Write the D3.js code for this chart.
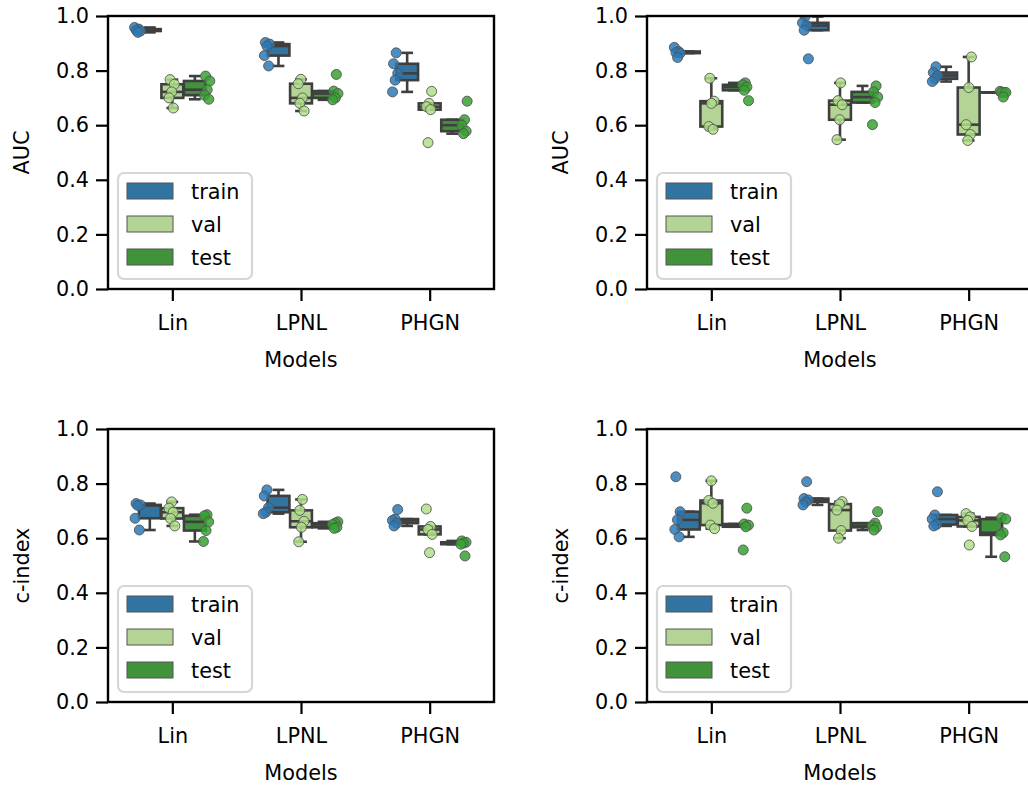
<!DOCTYPE html>
<html>
<head>
<meta charset="utf-8">
<script src="https://cdn.jsdelivr.net/npm/d3@7"></script>
<style>
  body { margin: 0; background: #fff; }
  svg { display: block; font-family: "DejaVu Sans", sans-serif; }
</style>
</head>
<body>
<svg width="1028" height="786"></svg>
<script>
const models = ["Lin", "LPNL", "PHGN"];
const splits = ["train", "val", "test"];
const yTicks = [0, 0.2, 0.4, 0.6, 0.8, 1.0];

// one list per model (Lin, LPNL, PHGN), 5 folds each
// AUC, left
const aucLTrain = [[0.958, 0.952, 0.948, 0.945, 0.94], [0.903, 0.897, 0.89, 0.855, 0.817], [0.865, 0.825, 0.79, 0.765, 0.722]];
const aucLVal   = [[0.767, 0.75, 0.722, 0.70, 0.663], [0.768, 0.752, 0.70, 0.68, 0.652], [0.724, 0.68, 0.668, 0.657, 0.536]];
const aucLTest  = [[0.78, 0.762, 0.73, 0.71, 0.695], [0.786, 0.725, 0.716, 0.70, 0.693], [0.688, 0.62, 0.60, 0.578, 0.569]];
// AUC, right
const aucRTrain = [[0.885, 0.87, 0.866, 0.864, 0.848], [0.998, 0.975, 0.965, 0.948, 0.843], [0.814, 0.793, 0.782, 0.77, 0.76]];
const aucRVal   = [[0.772, 0.688, 0.68, 0.595, 0.585], [0.755, 0.69, 0.675, 0.62, 0.547], [0.85, 0.738, 0.602, 0.566, 0.544]];
const aucRTest  = [[0.755, 0.748, 0.74, 0.728, 0.69], [0.744, 0.722, 0.703, 0.683, 0.602], [0.724, 0.72, 0.72, 0.72, 0.703]];
// c-index, left
const ciLTrain = [[0.727, 0.722, 0.72, 0.673, 0.63], [0.777, 0.755, 0.712, 0.695, 0.69], [0.705, 0.67, 0.665, 0.655, 0.645]];
const ciLVal   = [[0.733, 0.71, 0.695, 0.672, 0.645], [0.742, 0.702, 0.662, 0.64, 0.587], [0.707, 0.643, 0.632, 0.614, 0.547]];
const ciLTest  = [[0.686, 0.682, 0.66, 0.628, 0.588], [0.66, 0.655, 0.65, 0.64, 0.636], [0.59, 0.585, 0.582, 0.578, 0.535]];
// c-index, right
const ciRTrain = [[0.825, 0.697, 0.667, 0.632, 0.605], [0.807, 0.745, 0.74, 0.733, 0.722], [0.77, 0.685, 0.67, 0.65, 0.645]];
const ciRVal   = [[0.81, 0.738, 0.728, 0.648, 0.635], [0.734, 0.725, 0.703, 0.628, 0.60], [0.69, 0.678, 0.665, 0.643, 0.575]];
const ciRTest  = [[0.71, 0.652, 0.648, 0.642, 0.557], [0.697, 0.655, 0.645, 0.64, 0.63], [0.675, 0.67, 0.62, 0.612, 0.532]];

const boxColor = { train: "#3274a1", val: "#b3d495", test: "#40923b" };
const dotColor = { train: "#2a7ab8", val: "#b2df8a", test: "#38a232" };
const lineColor = "#3f3f3f";

const panels = [
  { left: 108, top: 16, label: "AUC", data: { train: aucLTrain, val: aucLVal, test: aucLTest } },
  { left: 647, top: 16, label: "AUC", data: { train: aucRTrain, val: aucRVal, test: aucRTest } },
  { left: 108, top: 429, label: "c-index", data: { train: ciLTrain, val: ciLVal, test: ciLTest } },
  { left: 647, top: 429, label: "c-index", data: { train: ciRTrain, val: ciRVal, test: ciRTest } }
];

const width = 386, height = 273;
const svg = d3.select("svg");

function boxStats(vals) {
  const s = vals.slice().sort(d3.ascending);
  const q1 = d3.quantileSorted(s, 0.25), med = d3.quantileSorted(s, 0.5), q3 = d3.quantileSorted(s, 0.75);
  const iqr = q3 - q1;
  const lo = d3.min(s.filter(v => v >= q1 - 1.5 * iqr));
  const hi = d3.max(s.filter(v => v <= q3 + 1.5 * iqr));
  return { q1, med, q3, lo, hi };
}

panels.forEach((p, pi) => {
  const g = svg.append("g").attr("transform", `translate(${p.left},${p.top})`);
  const x = d3.scaleLinear().domain([-0.5, 2.5]).range([0, width]);
  const y = d3.scaleLinear().domain([0, 1]).range([height, 0]);

  const clipId = "clip" + pi;
  g.append("clipPath").attr("id", clipId)
    .append("rect").attr("width", width).attr("height", height);

  // axes
  const yAxis = g.append("g")
    .call(d3.axisLeft(y).tickValues(yTicks).tickFormat(d3.format(".1f")).tickSize(12).tickPadding(7).tickSizeOuter(0));
  const xAxis = g.append("g").attr("transform", `translate(0,${height})`)
    .call(d3.axisBottom(x).tickValues([0, 1, 2]).tickFormat(i => models[i]).tickSize(12).tickPadding(14).tickSizeOuter(0));
  [yAxis, xAxis].forEach(a => {
    a.select(".domain").remove();
    a.selectAll(".tick line").attr("stroke", "#000").attr("stroke-width", 2.2);
    a.selectAll(".tick text").attr("font-size", 20.8).attr("fill", "#000").attr("font-family", "DejaVu Sans");
  });

  g.append("text")
    .attr("transform", `translate(-79,${height / 2}) rotate(-90)`)
    .attr("text-anchor", "middle").attr("font-size", 20.8).text(p.label);
  g.append("text")
    .attr("x", width / 2).attr("y", height + 78)
    .attr("text-anchor", "middle").attr("font-size", 20.8).text("Models");

  const plot = g.append("g").attr("clip-path", `url(#${clipId})`);
  const boxSlot = 0.175, boxW = x(boxSlot * 0.97) - x(0);
  const stripSlot = 0.8 / 3, jlim = 0.1 * stripSlot;

  // boxes
  models.forEach((m, i) => {
    splits.forEach((s, j) => {
      const st = boxStats(p.data[s][i]);
      const cx = x(i + (j - 1) * boxSlot);
      const bg = plot.append("g").attr("stroke", lineColor).attr("stroke-width", 2.6);
      bg.append("line").attr("x1", cx).attr("x2", cx).attr("y1", y(st.hi)).attr("y2", y(st.q3));
      bg.append("line").attr("x1", cx).attr("x2", cx).attr("y1", y(st.q1)).attr("y2", y(st.lo));
      bg.append("line").attr("x1", cx - boxW * 0.27).attr("x2", cx + boxW * 0.27).attr("y1", y(st.hi)).attr("y2", y(st.hi));
      bg.append("line").attr("x1", cx - boxW * 0.27).attr("x2", cx + boxW * 0.27).attr("y1", y(st.lo)).attr("y2", y(st.lo));
      bg.append("rect").attr("x", cx - boxW / 2).attr("width", boxW)
        .attr("y", y(st.q3)).attr("height", Math.max(0.01, y(st.q1) - y(st.q3)))
        .attr("fill", boxColor[s]);
      bg.append("line").attr("x1", cx - boxW / 2).attr("x2", cx + boxW / 2).attr("y1", y(st.med)).attr("y2", y(st.med));
    });
  });

  // points (stripplot, dodged)
  models.forEach((m, i) => {
    splits.forEach((s, j) => {
      const c = i + (j - 1) * stripSlot;
      plot.selectAll(null).data(p.data[s][i]).enter().append("circle")
        .attr("cx", (d, k) => x(c + (((k * 0.618 + i * 0.31 + j * 0.17 + pi * 0.11) % 1) * 2 - 1) * jlim))
        .attr("cy", d => y(d))
        .attr("r", 5)
        .attr("fill", dotColor[s]).attr("fill-opacity", 0.85)
        .attr("stroke", "#555").attr("stroke-width", 0.9);
    });
  });

  // legend
  const lg = g.append("g").attr("transform", `translate(10,${height - 116})`);
  lg.append("rect").attr("width", 134).attr("height", 106).attr("rx", 6)
    .attr("fill", "#fff").attr("fill-opacity", 0.8).attr("stroke", "#d6d6d6").attr("stroke-width", 2.2);
  splits.forEach((s, j) => {
    const row = lg.append("g").attr("transform", `translate(0,${18 + j * 33})`);
    row.append("rect").attr("x", 9).attr("y", -8).attr("width", 46).attr("height", 16)
      .attr("fill", boxColor[s]).attr("stroke", "#555").attr("stroke-width", 1);
    row.append("text").attr("x", 73).attr("y", 7.5).attr("font-size", 20.8).text(s);
  });

  // frame
  g.append("rect").attr("width", width).attr("height", height)
    .attr("fill", "none").attr("stroke", "#000").attr("stroke-width", 2.4);
});
</script>
</body>
</html>
